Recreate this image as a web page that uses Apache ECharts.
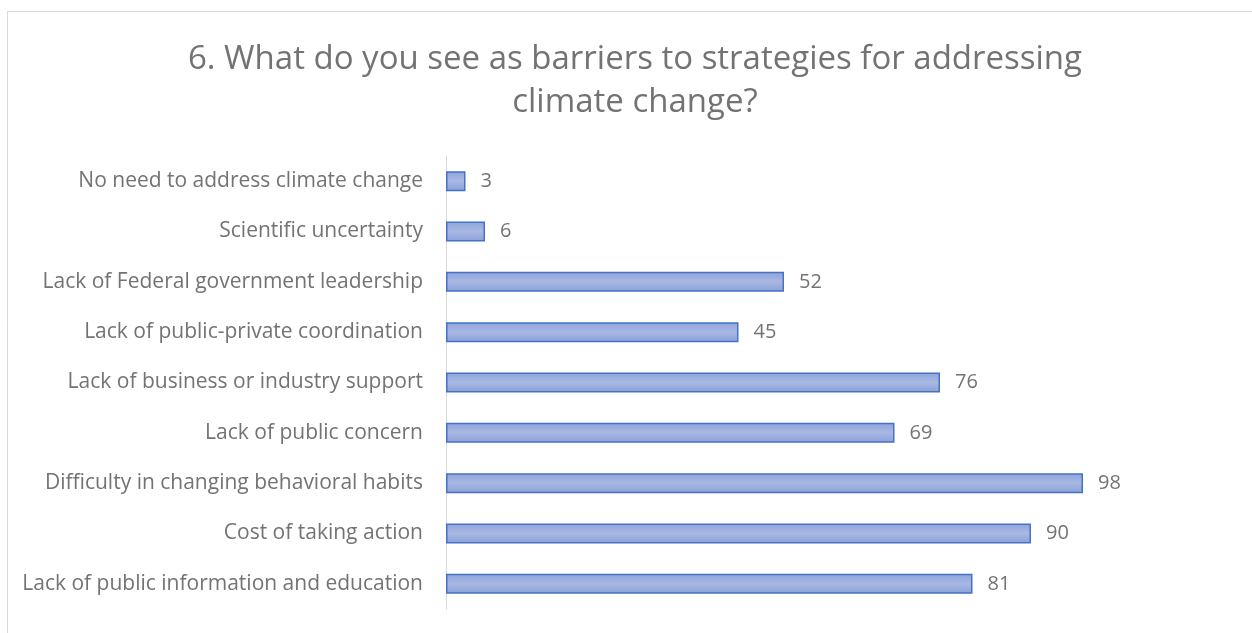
<!DOCTYPE html>
<html>
<head>
<meta charset="utf-8">
<script src="https://cdn.jsdelivr.net/npm/echarts@6/dist/echarts.min.js"></script>
<style>html,body{margin:0;padding:0;background:#fff;}#c{width:1252px;height:633px;}</style>
</head>
<body>
<div id="c"></div>
<script>
const categories = [
  "No need to address climate change",
  "Scientific uncertainty",
  "Lack of Federal government leadership",
  "Lack of public-private coordination",
  "Lack of business or industry support",
  "Lack of public concern",
  "Difficulty in changing behavioral habits",
  "Cost of taking action",
  "Lack of public information and education"
];
const values = [3, 6, 52, 45, 76, 69, 98, 90, 81];
const titleText = "6. What do you see as barriers to strategies for addressing\nclimate change?";

const chart = echarts.init(document.getElementById('c'));
chart.setOption({
  backgroundColor: '#fff',
  animation: false,
  title: {
    text: titleText,
    left: 630,
    textAlign: 'center',
    top: 33,
    textStyle: { fontFamily: 'Open Sans', fontWeight: 'normal', fontSize: 33, color: '#737373', lineHeight: 43 }
  },
  graphic: [
    { type: 'line', shape: { x1: 7.5, y1: 11.5, x2: 1252, y2: 11.5 }, style: { stroke: '#d9d9d9', lineWidth: 1 } },
    { type: 'line', shape: { x1: 7.5, y1: 11.5, x2: 7.5, y2: 633 }, style: { stroke: '#d9d9d9', lineWidth: 1 } }
  ],
  grid: { left: 446, right: 26, top: 156, bottom: 24, containLabel: false },
  xAxis: { type: 'value', min: 0, max: 120, show: false },
  yAxis: {
    type: 'category', data: categories, inverse: true,
    axisLine: { show: true, lineStyle: { color: '#d9d9d9', width: 1 } },
    axisTick: { show: false },
    axisLabel: { fontFamily: 'Open Sans', fontSize: 21, color: '#737373', margin: 23 }
  },
  series: [{
    type: 'bar', data: values, barWidth: 20,
    itemStyle: {
      color: new echarts.graphic.LinearGradient(0, 0, 0, 1, [
        { offset: 0, color: '#8ea4dc' },
        { offset: 0.5, color: '#a9b8e2' },
        { offset: 1, color: '#8aa0d9' }
      ]),
      borderColor: '#4472c4', borderWidth: 1.5
    },
    label: { show: true, position: 'right', distance: 15, fontFamily: 'Open Sans', fontSize: 20, color: '#737373' }
  }]
});
</script>
</body>
</html>
